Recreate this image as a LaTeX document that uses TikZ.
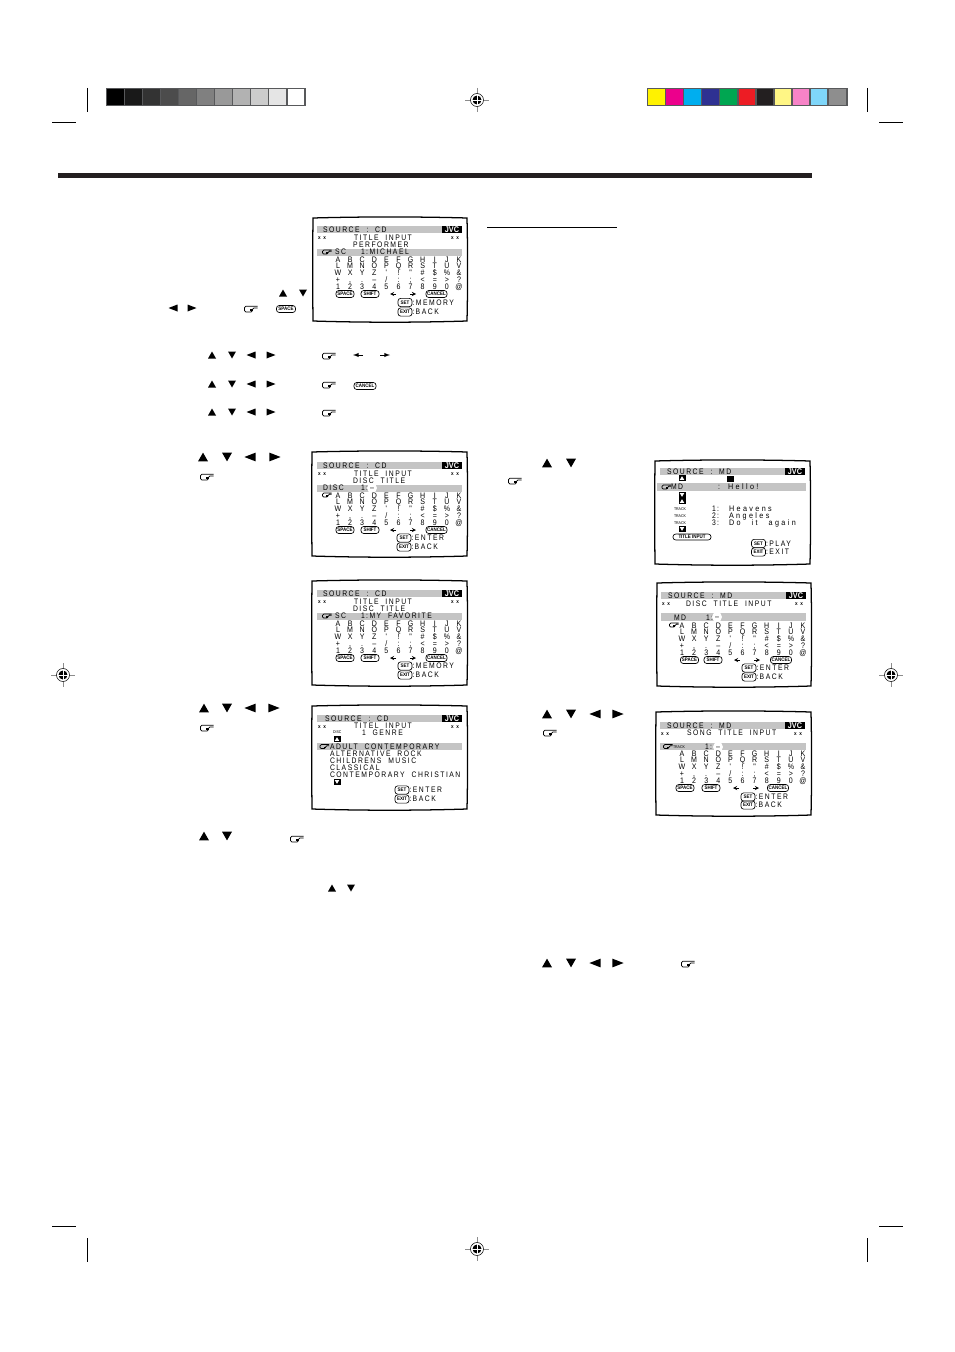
\documentclass[tikz,border=0pt]{standalone}
\usepackage{fontspec}
\usetikzlibrary{arrows}
\newfontfamily\osdfont[FakeStretch=0.85,LetterSpace=19,WordSpace=2]{Liberation Sans}
\newfontfamily\osdwide[FakeStretch=0.9,LetterSpace=30,WordSpace=2.5]{Liberation Sans}
\newfontfamily\osdglyph[FakeStretch=0.88]{Liberation Sans}
\definecolor{osdgray}{HTML}{C4C4C4}
\definecolor{markgray}{HTML}{8C8C8C}
\definecolor{rulegray}{HTML}{58595B}
\definecolor{ruleblack}{HTML}{231F20}
\definecolor{cbYellow}{HTML}{FFF200}
\definecolor{cbMagenta}{HTML}{EC008C}
\definecolor{cbCyan}{HTML}{00AEEF}
\definecolor{cbBlue}{HTML}{2E3192}
\definecolor{cbGreen}{HTML}{00A651}
\definecolor{cbRed}{HTML}{ED1C24}
\definecolor{cbBlack}{HTML}{231F20}
\definecolor{cbPaleYellow}{HTML}{FFF685}
\definecolor{cbPink}{HTML}{F783C7}
\definecolor{cbSky}{HTML}{7FD6F9}
\definecolor{cbGray}{HTML}{8E8E8E}
% triangles of the cursor keys
\newcommand\TriUp[3][1]{\fill (#2-4*#1,#3+3.5*#1) -- (#2+4*#1,#3+3.5*#1) -- (#2,#3-3.5*#1) -- cycle;}
\newcommand\TriDown[3][1]{\fill (#2-4*#1,#3-3.5*#1) -- (#2+4*#1,#3-3.5*#1) -- (#2,#3+3.5*#1) -- cycle;}
\newcommand\TriLeft[3][1]{\fill (#2+4.5*#1,#3-3.5*#1) -- (#2+4.5*#1,#3+3.5*#1) -- (#2-4.5*#1,#3) -- cycle;}
\newcommand\TriRight[3][1]{\fill (#2-4.5*#1,#3-3.5*#1) -- (#2-4.5*#1,#3+3.5*#1) -- (#2+4.5*#1,#3) -- cycle;}
\newcommand\FourKeys[6][1]{%
    \TriUp[#1]{#2}{#6}
    \TriDown[#1]{#3}{#6}
    \TriLeft[#1]{#4}{#6}
    \TriRight[#1]{#5}{#6}
}
\newcommand\HandIcon[3][1]{%
    \begin{scope}[shift={(#2,#3)},scale=#1]
        \draw[hand line] (6.5,-2.8) -- (-6.5,-2.8) -- (-6.5,3) -- (1.5,3) -- (1.5,-1) -- (6.5,-1);
        \draw[line width=0.4pt] (1.5,0.4) -- (-0.8,0.4) (1.5,1.7) -- (-0.8,1.7);
    \end{scope}
}
\newcommand\RegMark[2]{%
    \begin{scope}[shift={(#1,#2)}]
        \draw[markgray,line width=0.6pt] (-12,0) -- (12,0) (0,-12) -- (0,12);
        \draw[line width=0.4pt,fill=white] (0,0) circle (6.5);
        \fill (0,0) circle (4.5);
        \draw[white,line width=0.5pt] (-5,0) -- (5,0) (0,-5) -- (0,5);
    \end{scope}
}
\newcommand\ScreenFrame[4]{%
    \draw[screen frame] (#1,#2) .. controls +(50,-1.4) and +(-50,-1.4) .. (#3,#2)
        .. controls +(0.8,35) and +(0.8,-35) .. (#3,#4)
        .. controls +(-50,1.6) and +(50,1.6) .. (#1,#4)
        .. controls +(-0.4,-35) and +(-0.4,35) .. cycle;
}
\newcommand\OsdHead[3]{%
    \fill[osdgray] (0,0) rectangle (145,7);
    \node[osd text] (#1src) at (#2,6.4) {#3};
    \node[jvc tag] (#1jvc) at (135,3.5) {JVC};
}
\newcommand\OsdStars[2]{%
    \node[osd stars] (#1starl) at (1,#2) {x\hspace{2pt}x};
    \node[osd stars] (#1starr) at (134,#2) {x\hspace{2pt}x};
}
\newcommand\ScrollUp[2]{%
    \fill (#1-3.5,#2-3) rectangle (#1+3.5,#2+3);
    \fill[white] (#1-2.2,#2+1.8) -- (#1+2.2,#2+1.8) -- (#1,#2-1.8) -- cycle;
}
\newcommand\ScrollDown[2]{%
    \fill (#1-3.5,#2-3) rectangle (#1+3.5,#2+3);
    \fill[white] (#1-2.2,#2-1.8) -- (#1+2.2,#2-1.8) -- (#1,#2+1.8) -- cycle;
}
\newcommand\CharGrid[1]{%
    \foreach \rw [count=\j from 0] in {{A,B,C,D,E,F,G,H,I,J,K},{L,M,N,O,P,Q,R,S,T,U,V},
        {W,X,Y,Z,',!,",\#,\$,\%,\&},{+,{,},.,–,/,:,;,<,=,>,?},{1,2,3,4,5,6,7,8,9,0,@}}{
        \foreach \ch [count=\i from 0] in \rw {
            \node[osd char] (#1-\j-\i) at (21+\i*12.1,36+\j*6.9) {\ch};
        }
    }
}
\newcommand\KeysRow[5]{%
    \node[osd key=18] (#1space) at (#2,#5) {SPACE};
    \node[osd key=18] (#1shift) at (#3,#5) {SHIFT};
    \node[osd key=21] (#1cancel) at (#4,#5) {CANCEL};
    \draw[->,>=stealth,line width=0.4pt] (79,#5) -- (73,#5);
    \draw[->,>=stealth,line width=0.4pt] (93,#5) -- (99,#5);
}
\newcommand\SetExit[6]{%
    \node[osd key=14,minimum height=6.2pt] (#1set) at (#2,#3) {SET};
    \node[osd key=14,minimum height=6.2pt] (#1exit) at (#2,#4) {EXIT};
    \node[osd text] (#1setlab) at (#2+7.5,#3+2.6) {#5};
    \node[osd text] (#1exitlab) at (#2+7.5,#4+2.6) {#6};
}
\newcommand\CursorDash[3]{%
    \fill[white] (#2,#3) circle (5);
    \node[osd char] (#1dash) at (#2,#3+2.6) {–};
}
\begin{document}
\begin{tikzpicture}[x=0.75pt,y=-0.75pt,
        %Option for nice arrows%
        >=latex,%
        inner sep=0pt,%
        outer sep=0pt,%
        hand line/.style={line width=0.55pt,rounded corners=1pt},%
        screen frame/.style={line width=0.95pt},%
        crop line/.style={line width=0.75pt},%
        osd text/.style={anchor=base west,font=\osdfont\fontsize{6}{6}\selectfont},%
        osd wide/.style={anchor=base west,font=\osdwide\fontsize{6}{6}\selectfont},%
        osd char/.style={anchor=base,font=\osdglyph\fontsize{6}{6}\selectfont},%
        osd tiny/.style={anchor=base west,font=\osdglyph\fontsize{3}{3}\selectfont},%
        osd stars/.style={anchor=base west,font=\osdglyph\bfseries\fontsize{4}{4}\selectfont},%
        osd key/.style={draw,rounded corners=2pt,line width=0.5pt,
            minimum width=#1*0.75pt,minimum height=5.2pt,
            font=\osdglyph\bfseries\fontsize{3.8}{4}\selectfont},%
        jvc tag/.style={fill=black,text=white,minimum width=15pt,minimum height=5.6pt,
            font=\osdglyph\bfseries\fontsize{6.2}{6}\selectfont}%
    ]
    \useasboundingbox (0,0) rectangle (954,1352);
    %% crop marks
    \foreach \cx in {87,867} {
        \draw[crop line] (\cx,88) -- (\cx,112);
        \draw[crop line] (\cx,1238) -- (\cx,1262);
    }
    \foreach \cx in {52,879} {
        \draw[crop line] (\cx,123) -- +(24,0);
        \draw[crop line] (\cx,1226) -- +(24,0);
    }
    \RegMark{477}{100}
    \RegMark{477}{1249}
    \RegMark{63}{675}
    \RegMark{891}{675}
    %% colour bars
    \fill[rulegray] (106,88) rectangle (306,106);
    \foreach \p [count=\i from 0] in {100,90,80,70,60,50,40,30,20,10,0} {
        \fill[black!\p] (107+\i*18.05,89) rectangle +(16.5,16);
    }
    \fill[rulegray] (647,88) rectangle (848,106);
    \foreach \c [count=\i from 0] in {cbYellow,cbMagenta,cbCyan,cbBlue,cbGreen,cbRed,
        cbBlack,cbPaleYellow,cbPink,cbSky,cbGray} {
        \fill[\c] (648+\i*18.1,89) rectangle +(16.5,16);
    }
    %% rules
    \fill[ruleblack] (58,173) rectangle (812,178);
    \draw[line width=0.6pt] (487,227) -- (617,227);
    %% cursor keys and hands, left column
    \TriUp{283}{293} \TriDown{303}{293}
    \TriLeft{173}{308} \TriRight{192}{308}
    \HandIcon{251}{309}
    \node[osd key=19] (keyspace) at (286,309) {SPACE};
    \FourKeys{212}{232}{251}{271}{355}
    \HandIcon{329}{356}
    \draw[->,line width=0.5pt] (363,355) -- (353,355);
    \draw[->,line width=0.5pt] (380,355) -- (390,355);
    \FourKeys{212}{232}{251}{271}{384}
    \HandIcon{329}{385}
    \node[osd key=22] (keycancel) at (365,386) {CANCEL};
    \FourKeys{212}{232}{251}{271}{412}
    \HandIcon{329}{413}
    \FourKeys[1.25]{203}{227}{250}{275}{457}
    \HandIcon{207}{477}
    \FourKeys[1.25]{204}{227}{250}{274}{708}
    \HandIcon{207}{728}
    \TriUp[1.25]{204}{836} \TriDown[1.25]{227}{836}
    \HandIcon{297}{839}
    \TriUp{332}{888} \TriDown{351}{888}
    %% cursor keys and hands, right column
    \TriUp[1.25]{547}{463} \TriDown[1.25]{571}{463}
    \HandIcon{515}{481}
    \FourKeys[1.25]{547}{571}{595}{618}{714}
    \HandIcon{550}{733}
    \FourKeys[1.25]{547}{571}{595}{618}{963}
    \HandIcon{688}{964}
    %% screen: performer
    \ScreenFrame{313}{218}{467}{321}
    \begin{scope}[shift={(317,226)}]
        \OsdHead{pf}{6}{SOURCE : CD}
        \OsdStars{pf}{13.5}
        \node[osd text] (pftitle) at (37,14) {TITLE~INPUT};
        \node[osd text] (pfsub) at (36,21) {PERFORMER};
        \fill[osdgray] (0,22.5) rectangle (145,29.5);
        \HandIcon[0.7]{10}{26}
        \node[osd text] (pfsc) at (18,28.6) {SC};
        \node[osd text] (pfname) at (44,28.6) {1\,:MICHAEL};
        \CharGrid{pf}
        \KeysRow{pf}{28}{53}{119.5}{68}
        \SetExit{pf}{88}{76.5}{86}{:MEMORY}{:\,BACK}
    \end{scope}
    %% screen: disc title
    \ScreenFrame{312}{452}{467}{556}
    \begin{scope}[shift={(317,462)}]
        \OsdHead{dt}{6}{SOURCE : CD}
        \OsdStars{dt}{13.5}
        \node[osd text] (dttitle) at (37,14) {TITLE~INPUT};
        \node[osd text] (dtsub) at (36,21) {DISC TITLE};
        \fill[osdgray] (0,22.5) rectangle (145,29.5);
        \node[osd text] (dtsc) at (6,28.6) {DISC};
        \node[osd text] (dtnum) at (44,28.6) {1\,:};
        \CursorDash{dt}{55}{26}
        \HandIcon[0.7]{10}{33}
        \CharGrid{dt}
        \KeysRow{dt}{28}{53}{119.5}{68}
        \SetExit{dt}{87}{76}{85}{:ENTER}{:\,BACK}
    \end{scope}
    %% screen: my favorite
    \ScreenFrame{312}{581}{467}{685}
    \begin{scope}[shift={(317,590)}]
        \OsdHead{mf}{6}{SOURCE : CD}
        \OsdStars{mf}{13.5}
        \node[osd text] (mftitle) at (37,14) {TITLE~INPUT};
        \node[osd text] (mfsub) at (36,21) {DISC TITLE};
        \fill[osdgray] (0,22.5) rectangle (145,29.5);
        \HandIcon[0.7]{10}{26}
        \node[osd text] (mfsc) at (18,28.6) {SC};
        \node[osd text] (mfname) at (44,28.6) {1\,:MY FAVORITE};
        \CharGrid{mf}
        \KeysRow{mf}{28}{53}{119.5}{68}
        \SetExit{mf}{88}{76}{85}{:MEMORY}{:\,BACK}
    \end{scope}
    %% screen: genre
    \ScreenFrame{312}{706}{467}{809}
    \begin{scope}[shift={(317,715)}]
        \OsdHead{gn}{8}{SOURCE : CD}
        \OsdStars{gn}{13.5}
        \node[osd text] (gntitle) at (37,13.8) {TITEL~INPUT};
        \node[osd tiny] (gndisc) at (16,18.5) {DISC};
        \node[osd text] (gnsub) at (45,20.5) {1 GENRE};
        \ScrollUp{20}{24}
        \fill[osdgray] (0,28) rectangle (145,35);
        \HandIcon[0.7]{7.5}{31.5}
        \foreach \gname [count=\i from 0] in {ADULT CONTEMPORARY,ALTERNATIVE ROCK,
            CHILDRENS MUSIC,CLASSICAL,CONTEMPORARY CHRISTIAN} {
            \node[osd text] (gnrow\i) at (13,34.2+\i*7) {\gname};
        }
        \ScrollDown{20}{67}
        \SetExit{gn}{85}{75}{84}{:ENTER}{:\,BACK}
    \end{scope}
    %% screen: track list
    \ScreenFrame{655}{461}{810}{564}
    \begin{scope}[shift={(660,468)}]
        \OsdHead{tl}{7}{SOURCE :~MD}
        \ScrollUp{22}{10}
        \fill (67,7.5) rectangle (74,13.5);
        \fill[osdgray] (-3,15) rectangle (146,23);
        \HandIcon[0.7]{6.5}{19}
        \node[osd text] (tlmd) at (11,21.8) {MD};
        \node[osd text] (tlcol) at (58,21.8) {:};
        \node[osd wide] (tlhello) at (68,21.8) {Hello!};
        \ScrollDown{22}{27}
        \ScrollUp{22}{33}
        \foreach \tname/\tnum [count=\i from 0] in {Heavens/1,Angeles/2,Do it again/3} {
            \node[osd tiny] (tltrack\i) at (14,42.5+\i*7) {TRACK};
            \node[osd text] (tlnum\i) at (52,43+\i*7) {\tnum\,:};
            \node[osd wide] (tlname\i) at (69,43+\i*7) {\tname};
        }
        \ScrollDown{22}{61}
        \node[osd key=38,minimum height=4.4pt] (tlinput) at (32,69) {TITLE INPUT};
        \SetExit{tl}{98.5}{75.5}{84}{:PLAY}{:EXIT}
    \end{scope}
    %% screen: md disc title
    \ScreenFrame{657}{583}{811}{686}
    \begin{scope}[shift={(661,592)}]
        \OsdHead{md}{7}{SOURCE :~MD}
        \OsdStars{md}{13.5}
        \node[osd text] (mdtitle) at (25,14) {DISC TITLE INPUT};
        \fill[osdgray] (0,21) rectangle (145,29);
        \node[osd text] (mdsrc) at (13,28) {MD};
        \node[osd text] (mdnum) at (45,28) {1\,:};
        \CursorDash{md}{56}{25}
        \HandIcon[0.7]{13}{33}
        \CharGrid{md}
        \KeysRow{md}{28.5}{52}{120}{68}
        \SetExit{md}{88}{76}{85}{:ENTER}{:\,BACK}
    \end{scope}
    %% screen: song title
    \ScreenFrame{656}{712}{811}{815}
    \begin{scope}[shift={(660,722)}]
        \OsdHead{sg}{7}{SOURCE :~MD}
        \OsdStars{sg}{13.5}
        \node[osd text] (sgtitle) at (27,13.8) {SONG TITLE INPUT};
        \fill[osdgray] (0,21) rectangle (146,28);
        \HandIcon[0.7]{8}{24.5}
        \node[osd tiny] (sgtrack) at (13,26.5) {TRACK};
        \node[osd text] (sgnum) at (45,27.5) {1\,:};
        \CursorDash{sg}{58}{25}
        \begin{scope}[shift={(1,-2)}]
            \CharGrid{sg}
        \end{scope}
        \KeysRow{sg}{25}{51}{118}{66}
        \SetExit{sg}{88}{75}{83}{:ENTER}{:\,BACK}
    \end{scope}
\end{tikzpicture}
\end{document}
